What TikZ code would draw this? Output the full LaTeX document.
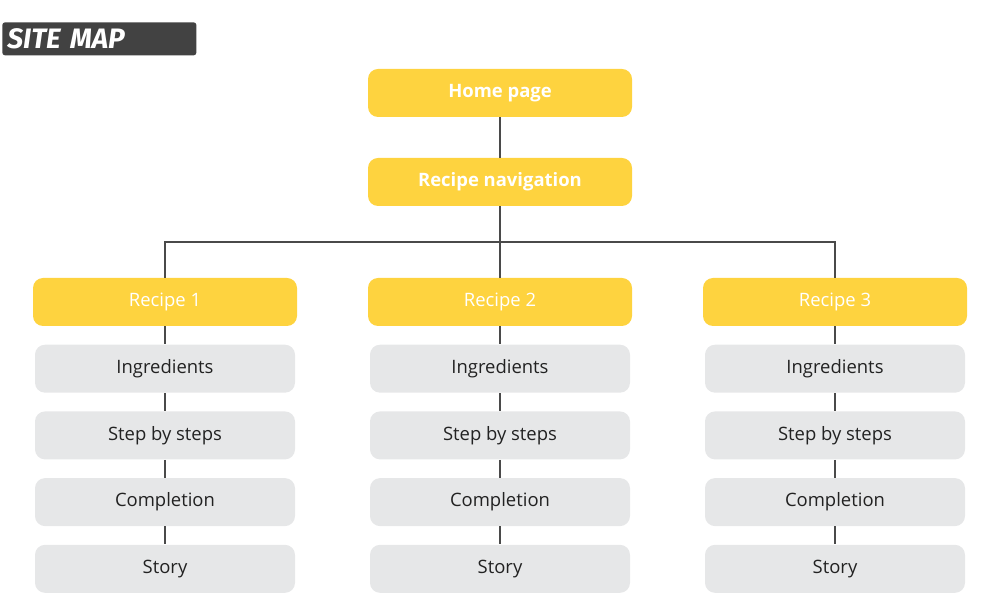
\documentclass[tikz,border=0pt]{standalone}
\usepackage{fontspec}
\setmainfont{Open Sans}
\newfontfamily\brushfont{Fira Sans}
\usetikzlibrary{positioning}
\definecolor{sunny}{HTML}{FED33F}
\definecolor{pale}{HTML}{E6E7E8}
\definecolor{slate}{HTML}{424242}
\definecolor{wire}{HTML}{4A4A4A}
\definecolor{ink}{HTML}{222222}
\tikzset{
	yellowbox/.style={fill=sunny, rounded corners=0.2cm, minimum width=5.28cm,
		minimum height=0.96cm, text=white, font=\fontsize{10.5}{12}\selectfont},
	headbox/.style={yellowbox, font=\fontsize{10.5}{12}\selectfont\bfseries},
	graybox/.style={fill=pale, rounded corners=0.2cm, minimum width=5.2cm,
		minimum height=0.96cm, text=ink, font=\fontsize{10.5}{12}\selectfont},
	link/.style={draw=wire, line width=0.6pt}
}

\begin{document}
\begin{tikzpicture}
	\useasboundingbox (0,0) rectangle (20,-12.02);
	
	% title bar
	\node[fill=slate, rounded corners=1.5pt, anchor=north west, minimum height=0.66cm,
		text width=3.68cm, inner xsep=0.1cm, inner ysep=0pt, align=left, text=white,
		font=\brushfont\fontsize{16}{16}\selectfont\bfseries\itshape]
		(title) at (0.04,-0.44) {SITE MAP};
	
	% top of the tree
	\node[headbox] (home) at (10,-1.86) {Home page};
	\node[headbox] (nav) at (10,-3.64) {Recipe navigation};
	\coordinate (bus) at (10,-4.84);
	
	\draw[link] (home) -- (nav);
	
	% recipe columns
	\foreach \i/\x in {1/3.3, 2/10, 3/16.7} {
		\node[yellowbox] (r\i) at (\x,-6.04) {Recipe \i};
		\node[graybox, below=0.36cm of r\i] (r\i-a) {Ingredients};
		\node[graybox, below=0.36cm of r\i-a] (r\i-b) {Step by steps};
		\node[graybox, below=0.36cm of r\i-b] (r\i-c) {Completion};
		\node[graybox, below=0.36cm of r\i-c] (r\i-d) {Story};
		\draw[link] (r\i) -- (r\i-a) -- (r\i-b) -- (r\i-c) -- (r\i-d);
	}
	
	\draw[link] (nav) -- (r2);
	\draw[link] (r1.north) -- (r1.north |- bus) -- (r3.north |- bus) -- (r3.north);
\end{tikzpicture}
\end{document}
